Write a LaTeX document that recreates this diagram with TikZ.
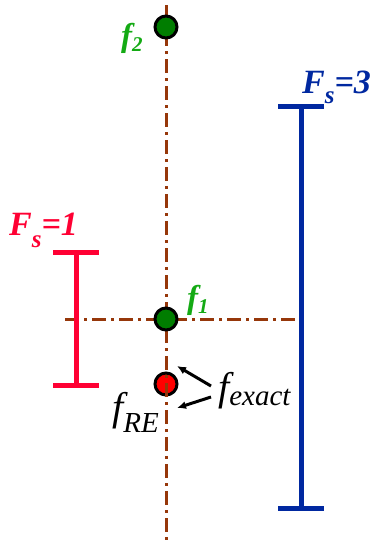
\documentclass[tikz,border=0pt]{standalone}
\usepackage{fontspec}
\setmainfont{Liberation Serif}
\usetikzlibrary{arrows.meta}
\definecolor{axisbrown}{RGB}{150,55,10}
\definecolor{dotgreen}{RGB}{0,125,0}
\definecolor{labgreen}{RGB}{20,170,20}
\definecolor{barred}{RGB}{255,0,51}
\definecolor{barblue}{RGB}{0,40,160}
% #1 size, #2 drop, #3 text
\newcommand{\sbs}[3]{\raisebox{-#2}{\fontsize{#1}{#1}\selectfont #3}}
\tikzset{
  axisline/.style={axisbrown, line width=3pt, dash pattern=on 14pt off 5pt on 3pt off 5pt},
  dotstyle/.style={circle, draw=black, line width=3pt, minimum size=22pt, inner sep=0pt},
  barline/.style={line width=5pt},
  glab/.style={labgreen, anchor=base west, font=\fontsize{33}{33}\selectfont\bfseries\itshape, inner sep=0pt},
  flab/.style={black, anchor=base west, font=\fontsize{40}{40}\selectfont\itshape, inner sep=0pt},
  fslab/.style={anchor=base west, font=\fontsize{34}{34}\selectfont\bfseries\itshape, inner sep=0pt},
  pointer/.style={-{Latex[length=9pt,width=8pt]}, line width=3pt}
}
\begin{document}
\begin{tikzpicture}[x=1pt,y=-1pt]
\useasboundingbox (0,0) rectangle (375,544);
% axes
\coordinate (vtop) at (166,5);
\coordinate (vbot) at (166,544);
\coordinate (hl) at (65,319);
\coordinate (hr) at (302,319);
% red dot drawn below the axis
\node[dotstyle, fill=red] (re) at (166,384) {};
\draw[axisline] (vtop) -- (vbot);
\draw[axisline] (hl) -- (hr);
% green dots
\node[dotstyle, fill=dotgreen] (f2) at (166,27) {};
\node[dotstyle, fill=dotgreen] (f1) at (166,319) {};
% bars
\coordinate (rt) at (76,252);
\coordinate (rb) at (76,385);
\coordinate (rtl) at (53,252); \coordinate (rtr) at (99,252);
\coordinate (rbl) at (53,385); \coordinate (rbr) at (99,385);
\draw[barred, barline] (rt) -- (rb) (rtl) -- (rtr) (rbl) -- (rbr);
\coordinate (bt) at (301,106);
\coordinate (bb) at (301,508);
\coordinate (btl) at (278,106); \coordinate (btr) at (324,106);
\coordinate (bbl) at (278,508); \coordinate (bbr) at (324,508);
\draw[barblue, barline] (bt) -- (bb) (btl) -- (btr) (bbl) -- (bbr);
% labels
\node[glab] (lf2) at (121,46) {f\sbs{21}{5pt}{2}};
\node[glab] (lf1) at (187,308) {f\sbs{21}{5pt}{1}};
\node[fslab, barred] (lfs1) at (9,235) {F\sbs{25}{12pt}{s}=1};
\node[fslab, barblue] (lfs3) at (302,93) {F\sbs{25}{10pt}{s}=3};
\node[flab] (lex) at (218,400) {f\sbs{29}{5pt}{exact}};
\node[flab] (lre) at (112,420) {f\sbs{29}{12pt}{RE}};
% pointers
\coordinate (a1s) at (211,386); \coordinate (a1e) at (177,366);
\coordinate (a2s) at (211,397); \coordinate (a2e) at (177,408);
\draw[pointer] (a1s) -- (a1e);
\draw[pointer] (a2s) -- (a2e);
\end{tikzpicture}
\end{document}
